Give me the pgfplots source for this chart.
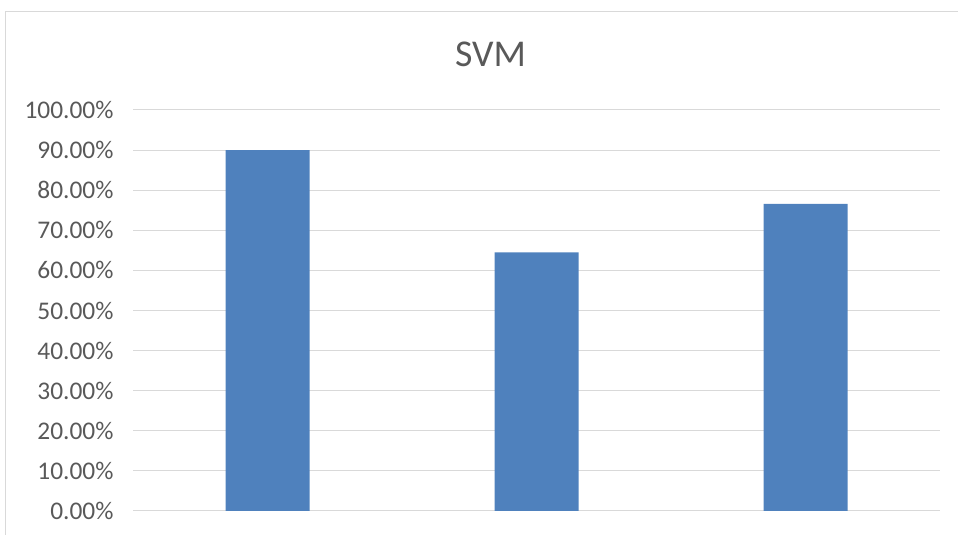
\documentclass[border=0pt]{standalone}
\usepackage{pgfplots}
\pgfplotsset{compat=1.18}
\usepackage{fontspec}
\setmainfont{Carlito}
\definecolor{barblue}{HTML}{4F81BD}
\definecolor{gridgray}{HTML}{D9D9D9}
\definecolor{txtgray}{HTML}{595959}
\begin{document}
\begin{tikzpicture}[x=1bp,y=1bp]
\path[use as bounding box] (0,0) rectangle (958,535);
\draw[gridgray, line width=1.2bp] (5.5,0) -- (5.5,523.5) -- (958,523.5);
\begin{axis}[
  at={(133bp,24bp)}, anchor=south west,
  scale only axis, width=807bp, height=401bp,
  xmin=0, xmax=3, ymin=0, ymax=100,
  ytick={0,10,...,100},
  yticklabels={0.00\%,10.00\%,20.00\%,30.00\%,40.00\%,50.00\%,60.00\%,70.00\%,80.00\%,90.00\%,100.00\%},
  xtick=\empty,
  ymajorgrids, grid style={gridgray, line width=1bp},
  axis line style={draw=none},
  major tick length=0pt,
  tick label style={font=\fontsize{25.5}{28}\selectfont, text=txtgray},
  yticklabel style={xshift=-16bp},
  title={SVM},
  title style={font=\fontsize{38}{42}\selectfont, text=txtgray, at={(0.443,1)}, anchor=center, yshift=50bp},
  clip=false,
]
\addplot[ybar, bar width=84bp, fill=barblue, draw=none] coordinates {(0.5,90.0) (1.5,64.5) (2.5,76.6)};
\end{axis}
\end{tikzpicture}
\end{document}
